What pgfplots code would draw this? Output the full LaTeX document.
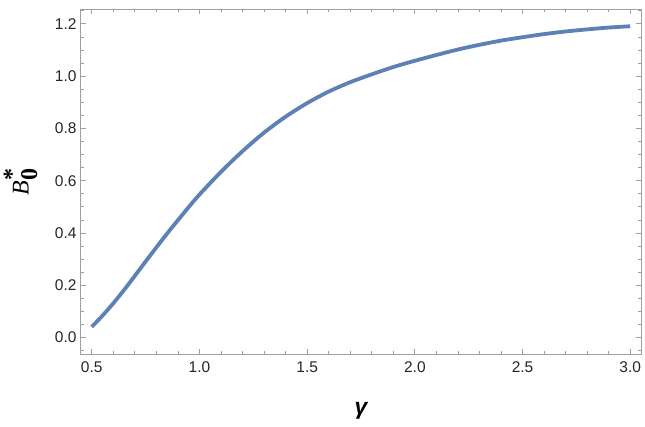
\documentclass[border=0pt]{standalone}
\usepackage{fontspec}
\setmainfont{Liberation Sans}
\newfontfamily\serifB{Liberation Serif}
\usepackage{pgfplots}
\pgfplotsset{compat=1.18}

\definecolor{mmablue}{RGB}{94,129,181}
\definecolor{framegray}{RGB}{160,160,160}

\pgfplotstableread{
x     y
0.50  0.041
0.55  0.084
0.60  0.131
0.65  0.182
0.70  0.236
0.75  0.291
0.80  0.345
0.85  0.398
0.90  0.449
0.95  0.499
1.00  0.547
1.10  0.634
1.20  0.713
1.30  0.784
1.40  0.845
1.50  0.897
1.60  0.941
1.70  0.977
1.80  1.007
1.90  1.035
2.00  1.059
2.10  1.081
2.20  1.102
2.30  1.120
2.40  1.136
2.50  1.149
2.60  1.161
2.70  1.171
2.80  1.179
2.90  1.186
3.00  1.191
}\bstar

\begin{document}
\begin{tikzpicture}[x=1pt,y=1pt]
\path[use as bounding box] (0,0) rectangle (645,426);
\begin{axis}[
    at={(81pt,72pt)}, anchor=south west,
    scale only axis,
    width=560pt, height=345pt,
    xmin=0.45, xmax=3.05,
    ymin=-0.063, ymax=1.257,
    xtick={0.5,1.0,...,3.0},
    ytick={0,0.2,...,1.2},
    minor xtick={0.5,0.6,...,3.0},
    minor ytick={-0.05,0,...,1.25},
    tick align=inside,
    major tick length=5pt,
    minor tick length=3pt,
    every tick/.style={framegray, line width=0.8pt},
    axis line style={framegray, line width=1pt},
    xticklabel pos=lower, yticklabel pos=left,
    tick label style={font=\fontsize{15.5}{17}\selectfont, text=black!85},
    /pgf/number format/.cd, fixed, fixed zerofill, precision=1, assume math mode=true,
    /pgfplots/.cd,
    xticklabel style={yshift=-4pt},
    yticklabel style={xshift=-1pt},
    xlabel={\fontsize{23}{25}\selectfont\bfseries\itshape γ},
    ylabel={\serifB\fontsize{24}{26}\selectfont\itshape B$^{\textbf{\upshape *}}_{\textbf{\upshape 0}}$},
    every axis x label/.style={at={(axis description cs:0.5,-0.165)}, anchor=center},
    every axis y label/.style={at={(axis description cs:-0.108,0.5)}, anchor=center, rotate=90},
]
\addplot[mmablue, line width=3.8pt, smooth] table[x=x, y=y] {\bstar};
\end{axis}
\end{tikzpicture}
\end{document}
